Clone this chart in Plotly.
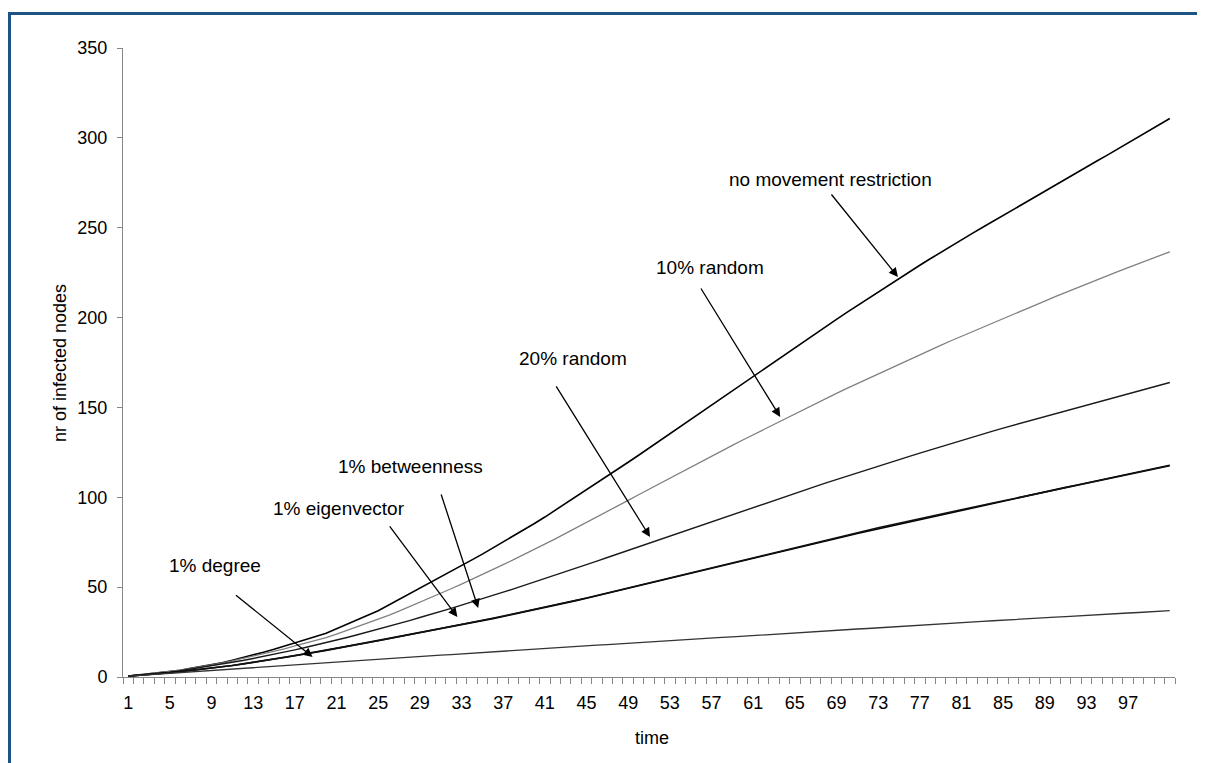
import plotly.graph_objects as go

time = list(range(1, 102))

no_restriction = [
    0.5, 1.1, 1.7, 2.3, 2.9, 3.8, 4.8, 5.8, 6.8, 7.9,
    9.3, 10.7, 12.2, 13.8, 15.4, 17.1, 18.9, 20.7, 22.5, 24.4,
    26.8, 29.3, 31.7, 34.4, 36.9, 40.0, 43.1, 46.1, 49.3, 52.4,
    55.6, 58.8, 62.0, 65.2, 68.4, 71.7, 75.1, 78.5, 81.9, 85.4,
    89.0, 92.8, 96.5, 100.2, 103.9, 107.8, 111.7, 115.5, 119.5, 123.4,
    127.4, 131.3, 135.4, 139.4, 143.4, 147.5, 151.4, 155.4, 159.5, 163.4,
    167.4, 171.4, 175.5, 179.4, 183.4, 187.3, 191.2, 195.1, 199.0, 202.9,
    206.7, 210.5, 214.3, 218.1, 221.9, 225.5, 229.1, 232.7, 236.3, 239.9,
    243.3, 246.7, 250.1, 253.5, 256.9, 260.3, 263.7, 267.1, 270.5, 273.9,
    277.2, 280.5, 283.8, 287.1, 290.4, 293.8, 297.2, 300.6, 304.0, 307.4, 310.8,
]

random_10 = [
    0.5, 1.1, 1.7, 2.3, 2.9, 3.8, 4.8, 5.7, 6.7, 7.7,
    9.0, 10.3, 11.6, 12.9, 14.2, 15.7, 17.3, 18.8, 20.4, 21.9,
    23.9, 25.9, 27.9, 29.9, 31.9, 34.3, 36.7, 39.1, 41.5, 43.9,
    46.5, 49.1, 51.7, 54.3, 56.9, 59.7, 62.5, 65.3, 68.1, 70.9,
    73.9, 76.9, 79.9, 82.9, 85.9, 89.0, 92.1, 95.2, 98.3, 101.4,
    104.5, 107.6, 110.7, 113.8, 116.9, 119.9, 122.9, 125.9, 128.9, 131.9,
    134.8, 137.8, 140.7, 143.7, 146.6, 149.4, 152.2, 155.0, 157.8, 160.6,
    163.3, 166.0, 168.7, 171.4, 174.1, 176.7, 179.3, 181.9, 184.5, 187.1,
    189.6, 192.1, 194.6, 197.1, 199.6, 202.0, 204.4, 206.8, 209.2, 211.6,
    214.0, 216.3, 218.7, 221.0, 223.4, 225.6, 227.8, 230.0, 232.2, 234.4, 236.6,
]

random_20 = [
    0.5, 1.0, 1.6, 2.1, 2.7, 3.5, 4.4, 5.2, 6.1, 7.0,
    8.1, 9.2, 10.3, 11.4, 12.5, 13.8, 15.1, 16.4, 17.7, 19.0,
    20.5, 22.0, 23.5, 25.0, 26.5, 28.1, 29.8, 31.4, 33.1, 34.7,
    36.5, 38.2, 40.0, 41.7, 43.5, 45.3, 47.2, 49.0, 50.9, 52.7,
    54.7, 56.6, 58.6, 60.5, 62.5, 64.5, 66.5, 68.5, 70.5, 72.5,
    74.5, 76.5, 78.5, 80.5, 82.5, 84.5, 86.5, 88.5, 90.5, 92.5,
    94.5, 96.4, 98.4, 100.3, 102.3, 104.2, 106.1, 108.0, 109.9, 111.8,
    113.6, 115.5, 117.3, 119.2, 121.0, 122.8, 124.6, 126.4, 128.2, 130.0,
    131.7, 133.4, 135.1, 136.8, 138.5, 140.1, 141.7, 143.3, 144.9, 146.5,
    148.1, 149.6, 151.2, 152.7, 154.3, 155.9, 157.5, 159.1, 160.7, 162.3, 163.9,
]

eigenvector_1 = [
    0.5, 0.9, 1.4, 1.8, 2.3, 2.9, 3.6, 4.2, 4.9, 5.5,
    6.4, 7.2, 8.1, 8.9, 9.8, 10.8, 11.8, 12.8, 13.8, 14.8,
    15.9, 16.9, 18.0, 19.0, 20.1, 21.2, 22.3, 23.4, 24.5, 25.6,
    26.7, 27.9, 29.0, 30.2, 31.3, 32.5, 33.7, 34.9, 36.1, 37.3,
    38.6, 39.9, 41.2, 42.5, 43.8, 45.2, 46.6, 48.0, 49.4, 50.8,
    52.2, 53.6, 55.0, 56.4, 57.8, 59.2, 60.6, 62.0, 63.4, 64.8,
    66.2, 67.6, 69.0, 70.4, 71.8, 73.1, 74.5, 75.8, 77.2, 78.5,
    79.8, 81.1, 82.4, 83.7, 85.0, 86.3, 87.6, 88.9, 90.2, 91.5,
    92.8, 94.1, 95.4, 96.7, 98.0, 99.3, 100.5, 101.8, 103.0, 104.3,
    105.5, 106.7, 107.9, 109.1, 110.3, 111.5, 112.8, 114.0, 115.3, 116.5, 117.8,
]

betweenness_1 = [
    0.5, 0.9, 1.4, 1.9, 2.4, 3.0, 3.6, 4.3, 4.9, 5.6,
    6.4, 7.3, 8.1, 9.0, 9.9, 10.9, 11.9, 12.9, 13.9, 14.9,
    16.0, 17.0, 18.1, 19.2, 20.2, 21.3, 22.4, 23.5, 24.6, 25.7,
    26.9, 28.0, 29.2, 30.3, 31.5, 32.7, 33.9, 35.1, 36.3, 37.5,
    38.8, 40.1, 41.4, 42.7, 44.0, 45.4, 46.8, 48.2, 49.6, 51.0,
    52.4, 53.8, 55.2, 56.6, 58.0, 59.4, 60.9, 62.3, 63.7, 65.1,
    66.5, 67.9, 69.4, 70.8, 72.2, 73.6, 75.0, 76.3, 77.7, 79.0,
    80.4, 81.7, 83.0, 84.3, 85.6, 86.9, 88.2, 89.4, 90.7, 91.9,
    93.1, 94.3, 95.6, 96.8, 98.0, 99.2, 100.5, 101.7, 102.9, 104.1,
    105.4, 106.6, 107.8, 109.0, 110.2, 111.4, 112.6, 113.9, 115.1, 116.3, 117.6,
]

degree_1 = [
    0.5, 0.9, 1.3, 1.7, 2.1, 2.5, 2.9, 3.4, 3.8, 4.2,
    4.6, 5.0, 5.4, 5.8, 6.2, 6.6, 7.0, 7.4, 7.7, 8.1,
    8.5, 8.9, 9.2, 9.6, 9.9, 10.3, 10.7, 11.1, 11.4, 11.8,
    12.2, 12.5, 12.9, 13.3, 13.6, 14.0, 14.4, 14.8, 15.1, 15.5,
    15.9, 16.2, 16.6, 16.9, 17.3, 17.7, 18.0, 18.4, 18.7, 19.1,
    19.5, 19.8, 20.2, 20.5, 20.9, 21.3, 21.6, 22.0, 22.3, 22.7,
    23.1, 23.4, 23.8, 24.1, 24.5, 24.9, 25.2, 25.6, 25.9, 26.3,
    26.7, 27.0, 27.4, 27.7, 28.1, 28.5, 28.8, 29.2, 29.5, 29.9,
    30.3, 30.6, 31.0, 31.3, 31.7, 32.0, 32.3, 32.7, 33.0, 33.3,
    33.6, 34.0, 34.3, 34.6, 35.0, 35.3, 35.6, 35.9, 36.3, 36.6, 36.9,
]

x_tick_labels = [str(v) for v in range(1, 101, 4)]
y_tick_values = [0, 50, 100, 150, 200, 250, 300, 350]

# label texts, label positions (data coords), arrow tail and arrow tip (data coords)
labels = ["no movement restriction", "10% random", "20% random",
          "1% betweenness", "1% eigenvector", "1% degree"]
label_x = [68.4, 56.9, 43.7, 28.1, 21.2, 9.35]
label_y = [276.6, 227.6, 177.5, 116.9, 94.0, 61.8]
tail_x = [68.4, 55.9, 42.0, 31.0, 26.0, 11.2]
tail_y = [269.3, 217.0, 162.5, 102.4, 84.6, 46.2]
tip_x = [74.9, 63.6, 51.1, 34.6, 32.6, 18.7]
tip_y = [222.6, 144.7, 77.9, 38.4, 33.4, 11.1]

FONT = "Liberation Sans, Arial, sans-serif"
AXIS_GRAY = "#868686"

fig = go.Figure()
series = [
    ("no movement restriction", no_restriction, "#000000", 1.6),
    ("10% random", random_10, "#808080", 1.3),
    ("20% random", random_20, "#1a1a1a", 1.4),
    ("1% eigenvector", eigenvector_1, "#000000", 1.6),
    ("1% betweenness", betweenness_1, "#111111", 1.6),
    ("1% degree", degree_1, "#333333", 1.3),
]
for name, vals, col, w in series:
    fig.add_trace(go.Scatter(x=time, y=vals, mode="lines", name=name,
                             line=dict(color=col, width=w), showlegend=False))

annotations = []
for t, lx, ly, ax0, ay0, tx, ty in zip(labels, label_x, label_y, tail_x, tail_y, tip_x, tip_y):
    annotations.append(dict(x=lx, y=ly, xref="x", yref="y", text=t, showarrow=False,
                            xanchor="center", yanchor="middle",
                            font=dict(family=FONT, size=19, color="#000000")))
    annotations.append(dict(x=tx, y=ty, xref="x", yref="y", ax=ax0, ay=ay0,
                            axref="x", ayref="y", text="", showarrow=True,
                            arrowhead=2, arrowsize=1.4, arrowwidth=1.3,
                            arrowcolor="#000000", standoff=0))

# page has an 8px body margin: figure is drawn 8px right/down of the window origin
OFF = 8
W, H = 1205 - OFF, 763 - OFF
L, R, T, B = 123 - OFF, 30, 48 - OFF, 86
pw, ph = W - L - R, H - T - B


def px_to_paper_x(px):
    return (px - OFF - L) / pw


def px_to_paper_y(py):
    return (H - B - (py - OFF)) / ph


# axis titles
annotations.append(dict(x=px_to_paper_x(60), y=px_to_paper_y(363), xref="paper", yref="paper",
                        text="nr of infected nodes", textangle=-90, showarrow=False,
                        xanchor="center", yanchor="middle",
                        font=dict(family=FONT, size=18, color="#000000")))
annotations.append(dict(x=px_to_paper_x(652), y=px_to_paper_y(738), xref="paper", yref="paper",
                        text="time", showarrow=False, xanchor="center", yanchor="middle",
                        font=dict(family=FONT, size=18, color="#000000")))

border = "#1f5285"
shapes = [
    dict(type="line", xref="paper", yref="paper",
         x0=px_to_paper_x(9.5), x1=px_to_paper_x(9.5),
         y0=px_to_paper_y(12), y1=px_to_paper_y(775),
         line=dict(color=border, width=3)),
    dict(type="line", xref="paper", yref="paper",
         x0=px_to_paper_x(8), x1=px_to_paper_x(1215),
         y0=px_to_paper_y(13.5), y1=px_to_paper_y(13.5),
         line=dict(color=border, width=3)),
]

fig.update_layout(
    width=W, height=H,
    margin=dict(l=L, r=R, t=T, b=B, pad=0),
    paper_bgcolor="white", plot_bgcolor="white",
    font=dict(family=FONT, size=18, color="#000000"),
    annotations=annotations,
    shapes=shapes,
    xaxis=dict(
        range=[0.5, 101.5], showgrid=False, zeroline=False,
        showline=True, linecolor=AXIS_GRAY, linewidth=1,
        tickmode="array", tickvals=list(range(1, 101, 4)), ticktext=x_tick_labels,
        ticks="outside", ticklen=6, tickcolor="rgba(0,0,0,0)",
        ticklabelstandoff=3,
        tickfont=dict(family=FONT, size=18, color="#000000"),
        minor=dict(tickmode="linear", tick0=0.5, dtick=1, ticks="outside",
                   ticklen=6, tickcolor=AXIS_GRAY, tickwidth=1, showgrid=False),
    ),
    yaxis=dict(
        range=[0, 350], showgrid=False, zeroline=False,
        showline=True, linecolor=AXIS_GRAY, linewidth=1,
        tickmode="array", tickvals=y_tick_values,
        ticks="outside", ticklen=5, tickcolor=AXIS_GRAY,
        ticklabelstandoff=6,
        tickfont=dict(family=FONT, size=18, color="#000000"),
    ),
)

fig.write_html("out.html")
